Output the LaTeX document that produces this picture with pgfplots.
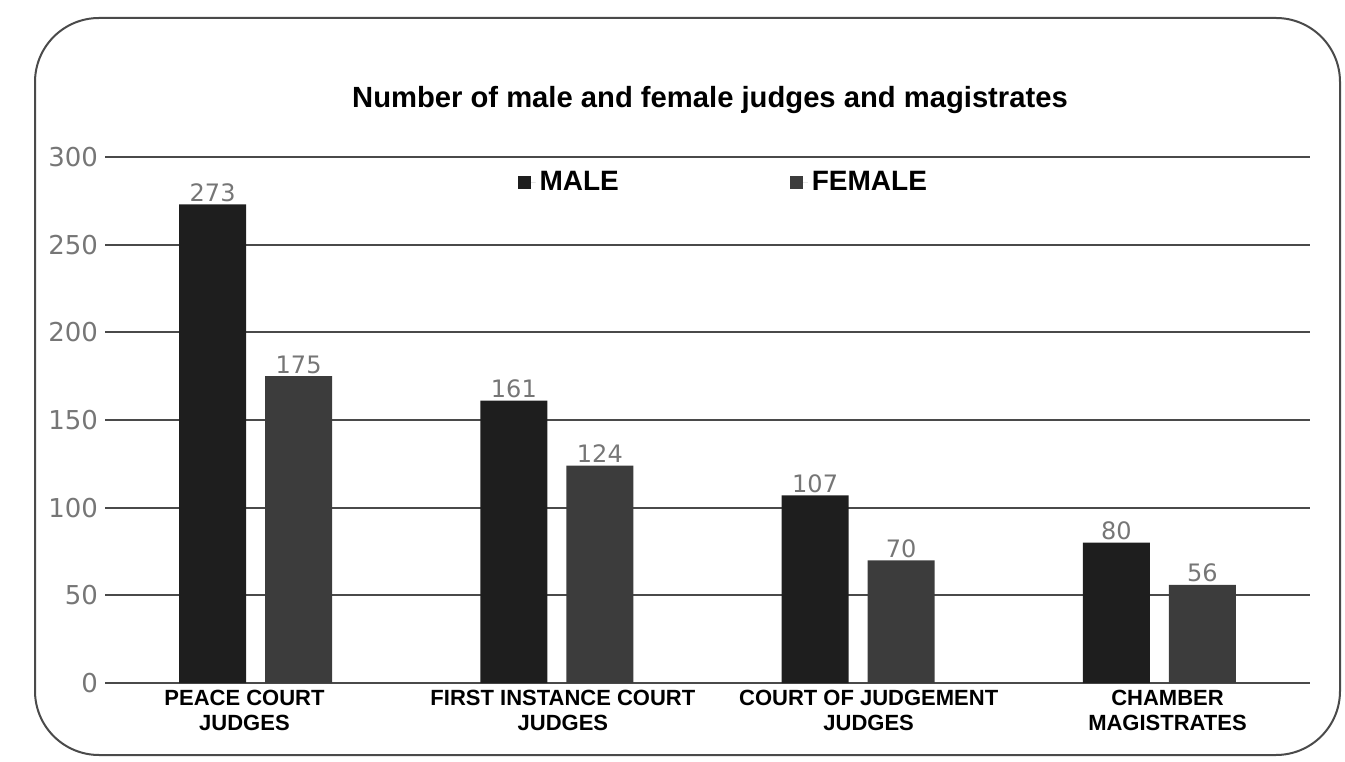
\documentclass[border=0pt]{standalone}
\usepackage{fontspec}
\setmainfont{Liberation Sans}
\newfontfamily\dejavu{DejaVu Sans}
\usepackage{pgfplots}
\pgfplotsset{compat=1.18}
\definecolor{maleC}{HTML}{1E1E1E}
\definecolor{femaleC}{HTML}{3C3C3C}
\definecolor{gridC}{HTML}{4A4A4A}
\definecolor{numC}{HTML}{767676}
\begin{document}
\begin{tikzpicture}[x=0.5pt,y=0.5pt]
\path[use as bounding box] (0,0) rectangle (1345,761);
\draw[line width=1pt, color=gridC, rounded corners=32pt] (35,6) rectangle (1340,743);
\node[font=\bfseries\fontsize{14.6}{16}\selectfont] at (710,661) {Number of male and female judges and magistrates};
\begin{axis}[
 at={(52.5pt,39pt)}, anchor=south west, scale only axis,
 width=602.5pt, height=263pt,
 xmin=-0.5, xmax=3.5, ymin=0, ymax=300,
 ytick={0,50,...,300},
 xtick={-0.037,1.02,2.035,3.027},
 xticklabels={{PEACE COURT\\JUDGES},{FIRST INSTANCE COURT\\JUDGES},{COURT OF JUDGEMENT\\JUDGES},{CHAMBER\\MAGISTRATES}},
 xticklabel style={align=center, font=\bfseries\fontsize{11}{12.5}\selectfont},
 yticklabel style={font=\dejavu\fontsize{13}{13}\selectfont, color=numC},
 /pgf/number format/assume math mode=true,
 axis line style={draw=none},
 major tick length=0pt,
 ymajorgrids, grid style={gridC, line width=1pt},
 ybar, bar width=33.5pt,
 nodes near coords,
 nodes near coords style={font=\dejavu\fontsize{12}{12}\selectfont, color=numC, inner sep=1.2pt},
 legend style={at={(0.342,0.952)}, anchor=west, draw=none, fill=none, legend columns=2,
   font=\bfseries\fontsize{14}{16}\selectfont, inner sep=0pt,
   /tikz/every even column/.append style={column sep=83.5pt}},
 legend image code/.code={\fill[#1] (0pt,-3.25pt) rectangle (6.5pt,3.25pt); \path (6.5pt,0pt) -- (9pt,0pt);},
]
\addplot[fill=maleC, draw=none, bar shift=-21.5pt] coordinates {(0,273) (1,161) (2,107) (3,80)};
\addplot[fill=femaleC, draw=none, bar shift=21.5pt] coordinates {(0,175) (1,124) (2,70) (3,56)};
\legend{MALE,FEMALE}
\end{axis}
\end{tikzpicture}
\end{document}
